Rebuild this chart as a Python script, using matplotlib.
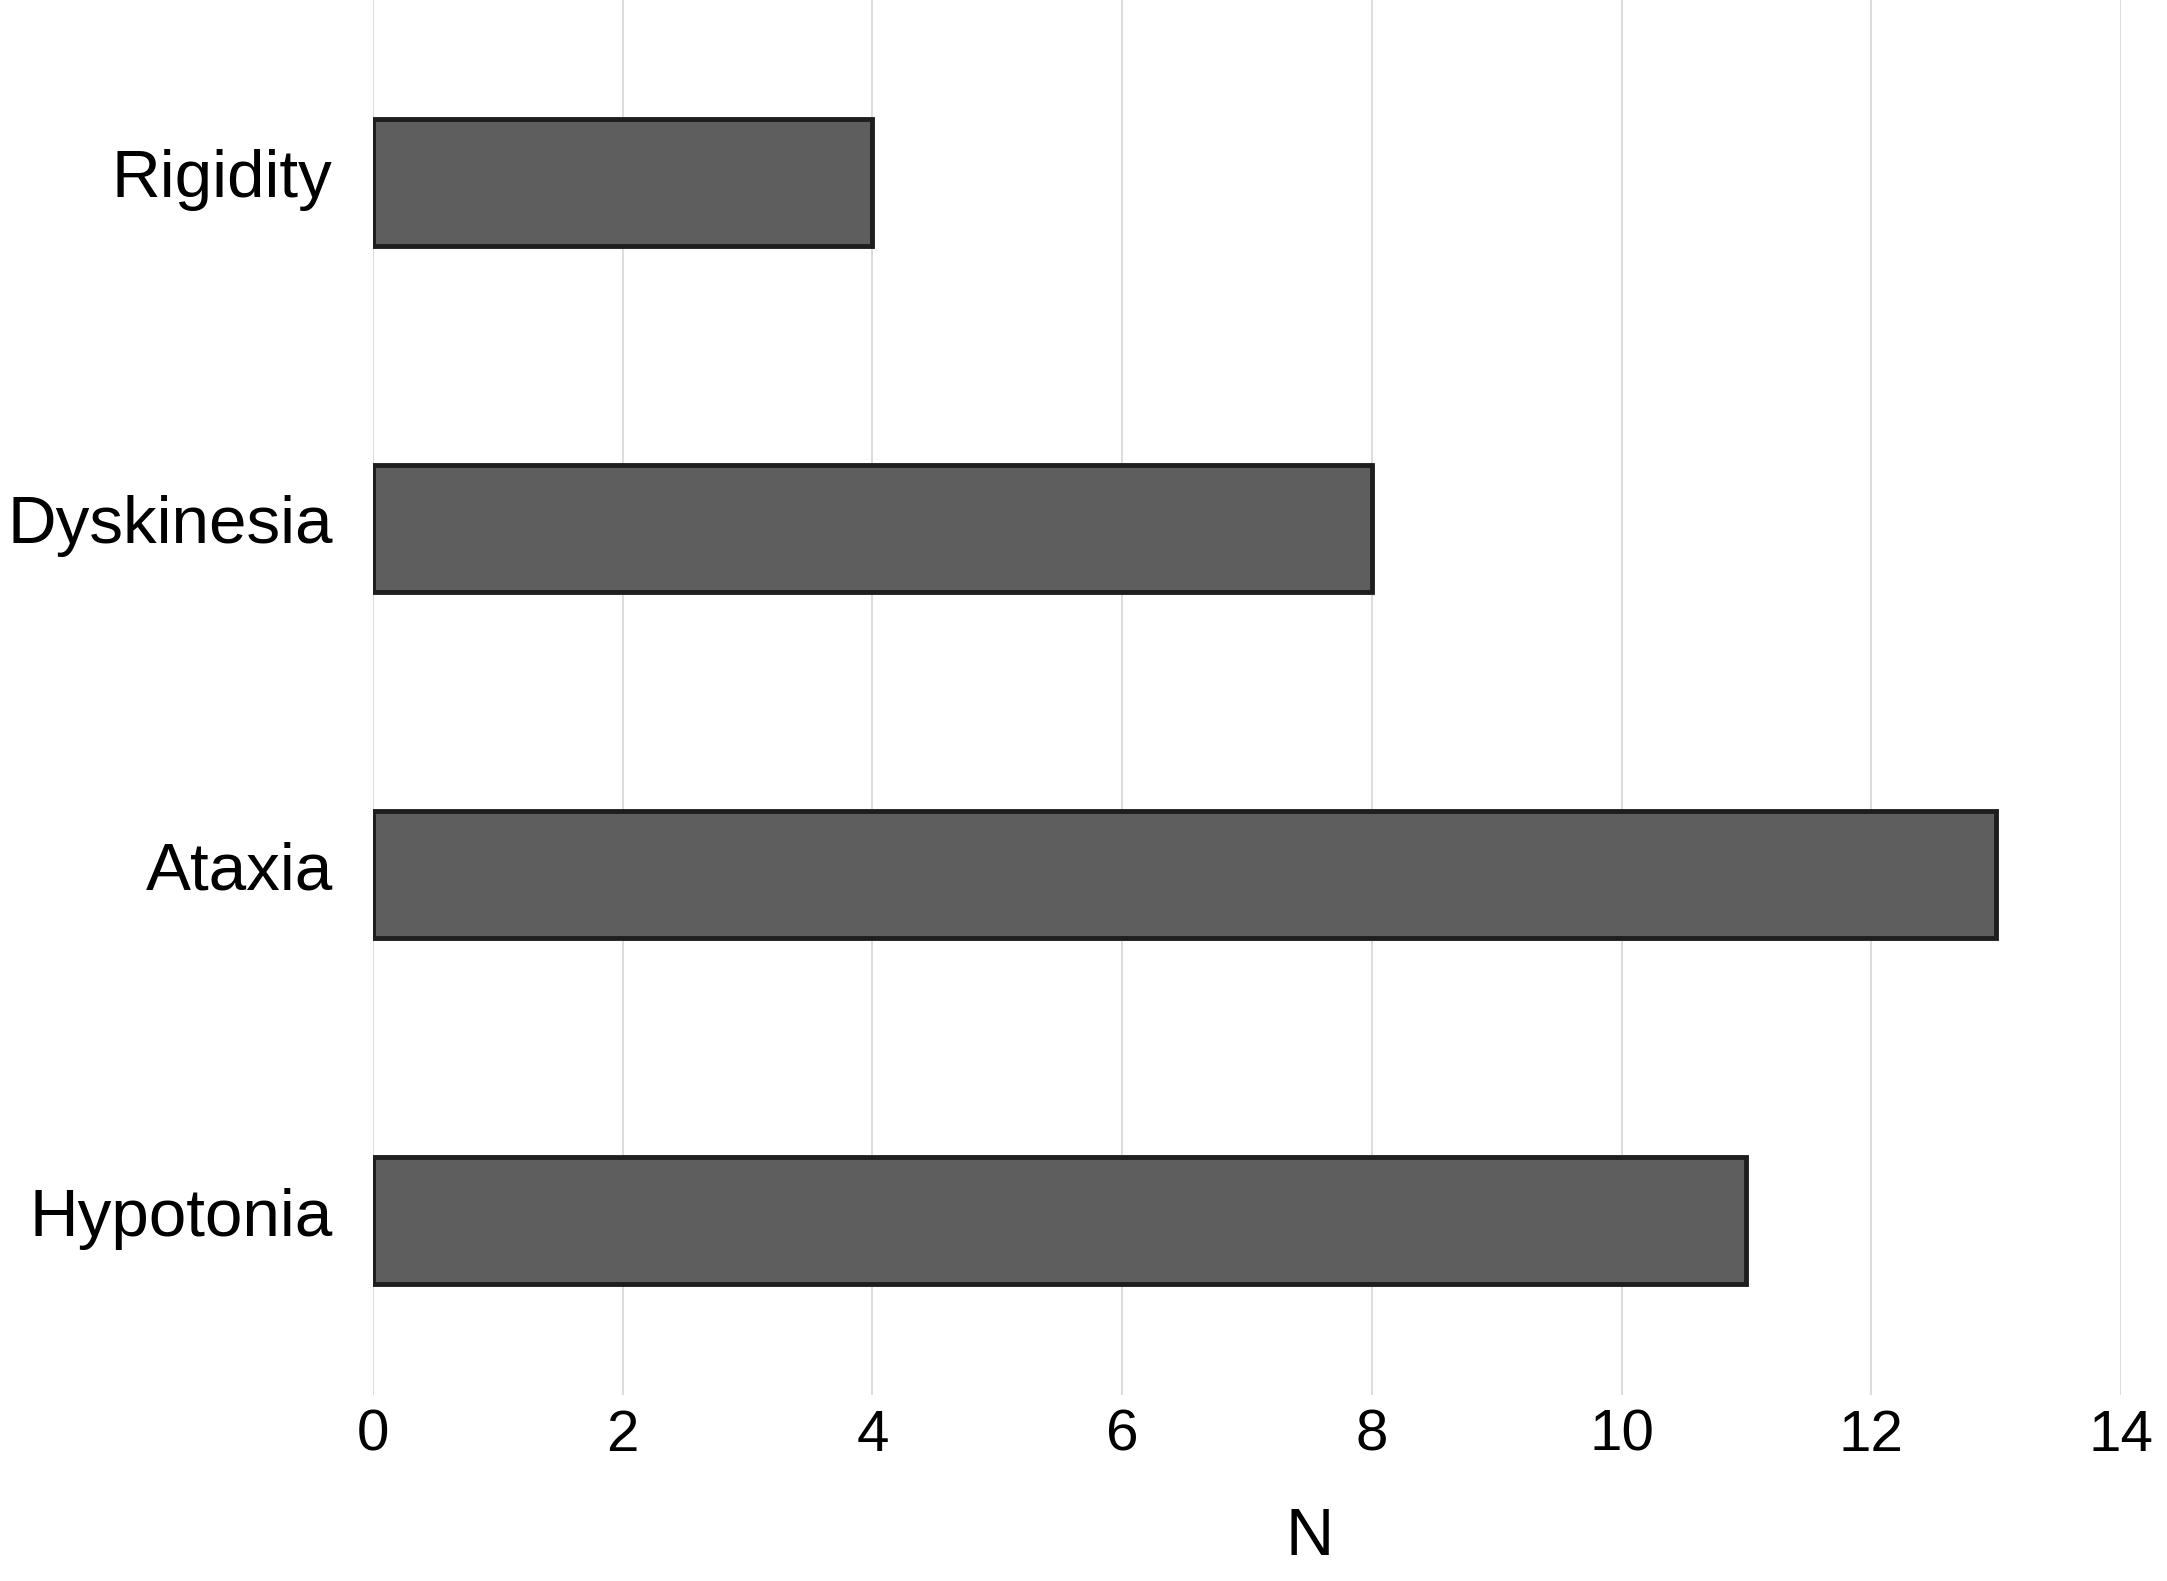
import matplotlib.pyplot as plt
import matplotlib.transforms as mtransforms

categories = ["Hypotonia", "Ataxia", "Dyskinesia", "Rigidity"]
counts = [11, 13, 8, 4]
xticks = [0, 2, 4, 6, 8, 10, 12, 14]

plt.rcParams['font.family'] = ['Liberation Sans', 'DejaVu Sans']

fig = plt.figure(figsize=(21.67, 15.81), dpi=100)
ax = fig.add_axes([0.1721, 0.1176, 0.8067, 0.8824])

pos = list(range(len(categories)))
ax.barh(pos, counts, height=0.367, color='#5e5e5e', edgecolor='#1e1e1e',
        linewidth=3.5, zorder=3)

ax.set_xlim(0, 14)
ax.set_ylim(-0.504, 3.527)
ax.set_xticks(xticks)
ax.set_xticklabels([str(t) for t in xticks], fontsize=42)
ax.set_yticks(pos)
ax.set_yticklabels(categories, fontsize=48.5)
ax.tick_params(axis='x', length=0, pad=10)
ax.tick_params(axis='y', length=0, pad=29)

# nudge category labels up a little
shift = mtransforms.ScaledTranslation(0, 9 / 100, fig.dpi_scale_trans)
for lbl in ax.get_yticklabels():
    lbl.set_transform(lbl.get_transform() + shift)

ax.grid(axis='x', color='#d6d6d6', linewidth=1.2, zorder=0)
ax.grid(axis='y', visible=False)
for s in ax.spines.values():
    s.set_visible(False)

ax.set_xlabel("N", fontsize=48)
ax.xaxis.set_label_coords(0.536, -0.08)

fig.savefig("out.png", dpi=100)
